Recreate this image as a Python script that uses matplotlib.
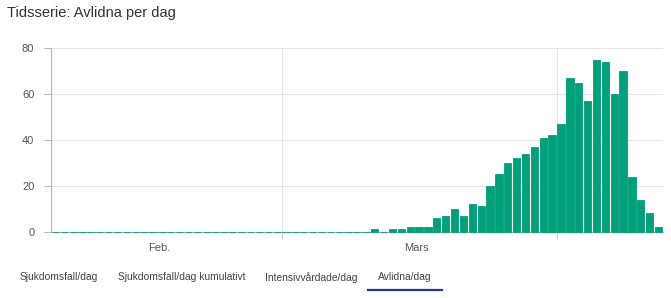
import pandas as pd
import matplotlib
matplotlib.use('Agg')
import matplotlib.pyplot as plt
import matplotlib.dates as mdates
import matplotlib.ticker as mticker
from matplotlib.lines import Line2D

plt.rcParams['font.family'] = ['Liberation Sans', 'DejaVu Sans']

# Avlidna per dag, 2020-02-04 .. 2020-04-12
start_date = '2020-02-04'
deaths = [0, 0, 0, 0, 0, 0, 0, 0, 0, 0,
          0, 0, 0, 0, 0, 0, 0, 0, 0, 0,
          0, 0, 0, 0, 0, 0,
          0, 0, 0, 0, 0, 0, 0, 0, 0, 0,
          1, 0, 1, 1, 2, 2, 2, 6, 7, 10,
          7, 12, 11, 20, 25, 30, 32, 34, 37, 41,
          42, 47, 67, 65, 57, 75, 74, 60, 70, 24,
          14, 8, 2]
month_labels = ['Feb.', 'Mars']
month_label_pos = ['2020-02-16 06:00', '2020-03-16 06:00']
month_starts = ['2020-03-01', '2020-04-01']
tabs = ['Sjukdomsfall/dag', 'Sjukdomsfall/dag kumulativt', 'Intensivvårdade/dag', 'Avlidna/dag']

days = pd.date_range(start_date, periods=len(deaths), freq='D')

bar_color = '#00a07b'
grid_color = '#e6e6e6'

fig = plt.figure(figsize=(6.71, 2.98), dpi=100)
ax = fig.add_axes([51 / 671, 66.3 / 298, 612 / 671, 183.4 / 298])

bars = ax.bar(days + pd.Timedelta(hours=12), deaths, width=0.82, color=bar_color,
              edgecolor=bar_color, linewidth=0.6, zorder=3)
for b in bars:
    b.set_clip_on(False)

ax.set_xlim(days[0], days[-1] + pd.Timedelta(days=1))
ax.set_ylim(0, 80)
ax.set_yticks([0, 20, 40, 60, 80])

ax.xaxis.set_major_locator(mticker.FixedLocator(mdates.date2num(pd.to_datetime(month_starts))))
ax.xaxis.set_major_formatter(mticker.NullFormatter())
ax.xaxis.set_minor_locator(mticker.FixedLocator(mdates.date2num(pd.to_datetime(month_label_pos))))
ax.xaxis.set_minor_formatter(mticker.FixedFormatter(month_labels))
ax.tick_params(axis='x', which='major', length=5, color='#cccccc', width=0.8)
ax.tick_params(axis='x', which='minor', length=0, pad=8, labelsize=8, labelcolor='#555555')
ax.tick_params(axis='y', length=5, color='#bbbbbb', width=0.8, pad=7,
               labelsize=8, labelcolor='#555555')

ax.grid(axis='y', color=grid_color, linewidth=0.8, zorder=0)
ax.grid(axis='x', which='major', color=grid_color, linewidth=0.8, zorder=0)
ax.set_axisbelow(True)

for side in ['top', 'right']:
    ax.spines[side].set_visible(False)
ax.spines['left'].set_color('#b5b5b5')
ax.spines['bottom'].set_color('#b5b5b5')
ax.spines['left'].set_linewidth(0.8)
ax.spines['bottom'].set_linewidth(0.8)

fig.text(7 / 671, 1 - 13 / 298, 'Tidsserie: Avlidna per dag', fontsize=10.5,
         color='#333333', va='center', ha='left')

tab_x = [20, 118, 265, 378]
for label, x in zip(tabs, tab_x):
    fig.text(x / 671, 1 - 277.5 / 298, label, fontsize=7.4, color='#444444',
             va='center', ha='left')

fig.add_artist(Line2D([368 / 671, 442 / 671], [1 - 290 / 298, 1 - 290 / 298],
                      transform=fig.transFigure, color='#1f3a8f', linewidth=1.6))

fig.savefig('out.png', dpi=100)
